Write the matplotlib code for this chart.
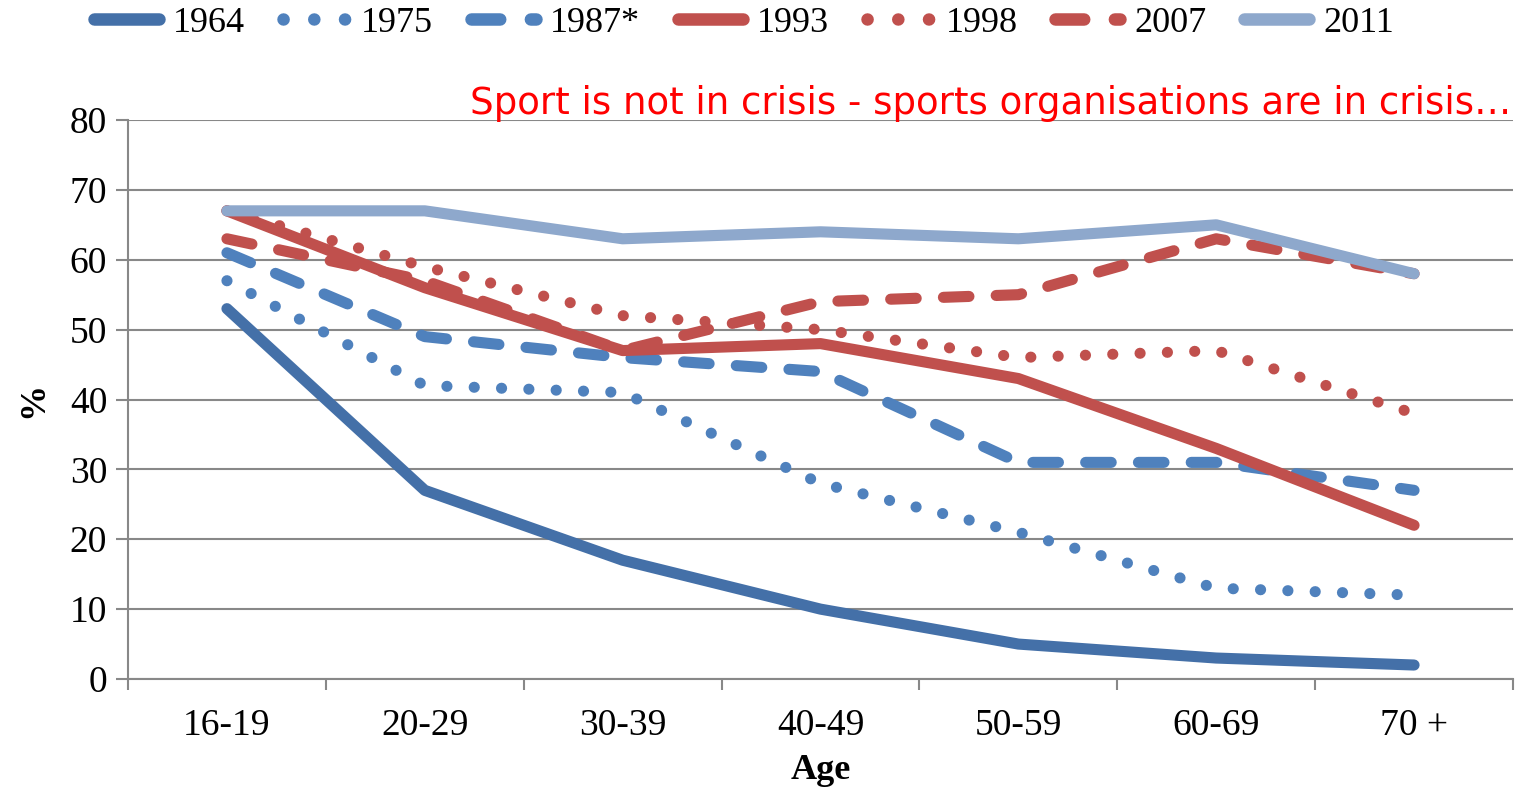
import matplotlib.pyplot as plt
import numpy

# Data
ages = ["16-19", "20-29", "30-39", "40-49", "50-59", "60-69", "70 +"]
years = ["1964", "1975", "1987*", "1993", "1998", "2007", "2011"]
share_1964 = [53, 27, 17, 10, 5, 3, 2]
share_1975 = [57, 42, 41, 28, 21, 13, 12]
share_1987 = [61, 49, 46, 44, 31, 31, 27]
share_1993 = [67, 56, 47, 48, 43, 33, 22]
share_1998 = [67, 59, 52, 50, 46, 47, 38]
share_2007 = [63, 57, 47, 54, 55, 63, 58]
share_2011 = [67, 67, 63, 64, 63, 65, 58]

series = [share_1964, share_1975, share_1987, share_1993,
          share_1998, share_2007, share_2011]

blue_dark = "#4470A8"
blue = "#4F81BD"
red = "#C0504D"
blue_light = "#8EA8CC"

dots = (0, (0.01, 2.45))
dashes = (0, (2.3, 2.45))
styles = [
    {"color": blue_dark, "linestyle": "-"},
    {"color": blue, "linestyle": dots},
    {"color": blue, "linestyle": dashes},
    {"color": red, "linestyle": "-"},
    {"color": red, "linestyle": dots},
    {"color": red, "linestyle": dashes},
    {"color": blue_light, "linestyle": "-"},
]

plt.rcParams["font.family"] = ["Liberation Serif", "DejaVu Serif"]

fig = plt.figure(figsize=(15.21, 7.93), dpi=100, facecolor="white")
ax = fig.add_axes([128 / 1521, 114 / 793, (1513 - 128) / 1521, (679 - 120) / 793])

x = numpy.arange(len(ages))
for label, values, kws in zip(years, series, styles):
    ax.plot(x, values, label=label, linewidth=8, solid_capstyle="round",
            dash_capstyle="round", solid_joinstyle="round", **kws)

ax.set_xlim(-0.5, len(ages) - 0.5)
ax.set_ylim(0, 80)
ax.set_yticks(range(0, 81, 10))
ax.set_xticks(x)
ax.set_xticklabels(ages)
ax.set_xticks(numpy.arange(-0.5, len(ages), 1.0), minor=True)
ax.tick_params(axis="x", which="major", length=0, labelsize=27, pad=21)
ax.tick_params(axis="x", which="minor", length=8, width=1.5, color="#888888")
ax.tick_params(axis="y", length=9, width=1.5, color="#888888", labelsize=27, pad=6)

ax.grid(True, axis="y", color="#888888", linewidth=1.5)
ax.set_axisbelow(True)
for side in ["top", "right"]:
    ax.spines[side].set_visible(False)
for side in ["left", "bottom"]:
    ax.spines[side].set_color("#888888")
    ax.spines[side].set_linewidth(1.5)

ax.set_xlabel("Age", fontsize=26, fontweight="bold", labelpad=8)
ax.set_ylabel("%", fontsize=26, fontweight="bold", labelpad=14)

leg = fig.legend(loc="upper center", bbox_to_anchor=(0.489, 1.033), ncol=7,
                 frameon=False, fontsize=26, handlelength=1.8, handletextpad=0.38,
                 columnspacing=1.05)
for line in leg.get_lines():
    line.set_linewidth(9)

fig.text(470 / 1521, 1 - 103 / 793, "Sport is not in crisis - sports organisations are in crisis\u2026",
         color="red", fontsize=26.7, family=["DejaVu Sans"], va="center", ha="left")

fig.savefig("out.png", dpi=100, facecolor="white")
